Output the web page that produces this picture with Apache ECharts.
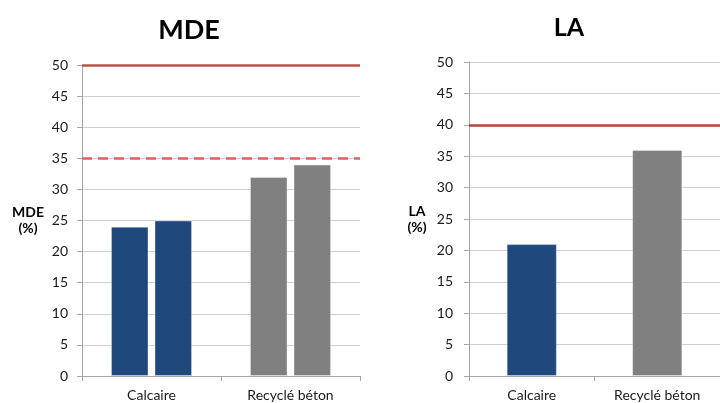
<!DOCTYPE html>
<html>
<head>
<meta charset="utf-8">
<script src="https://cdn.jsdelivr.net/npm/echarts@6/dist/echarts.min.js"></script>
<style>
  html, body { margin: 0; padding: 0; background: #fff; }
  #chart { width: 720px; height: 403px; }
</style>
</head>
<body>
<div id="chart"></div>
<script>
// Granulat categories shared by both panels
const categories = ['Calcaire', 'Recyclé béton'];
const yTicks = [0, 5, 10, 15, 20, 25, 30, 35, 40, 45, 50];

// MDE (%) – two test results per granulat
const mdeRun1 = [24, 32];
const mdeRun2 = [25, 34];
const mdeLimitHigh = 50;   // solid limit
const mdeLimitLow = 35;    // dashed limit

// LA (%) – one result per granulat
const laValues = [21, 36];
const laLimit = 40;

const barColors = ['#1f497d', '#808080'];
const font = 'Lato, "Liberation Sans", sans-serif';

function colorByCategory(p) { return barColors[p.dataIndex]; }

function yAxisFor(gridIndex, label, nameGap, labelMargin) {
  return {
    type: 'value', gridIndex: gridIndex,
    min: yTicks[0], max: yTicks[yTicks.length - 1], interval: yTicks[1] - yTicks[0],
    name: label, nameLocation: 'middle', nameRotate: 0, nameGap: nameGap,
    nameTextStyle: { fontFamily: font, fontWeight: 'bold', fontSize: 14, color: '#000', align: 'center', lineHeight: 16 },
    axisLine: { show: true, lineStyle: { color: '#a6a6a6', width: 1 } },
    axisTick: { show: true, length: 5, lineStyle: { color: '#a6a6a6' } },
    axisLabel: { fontFamily: font, fontSize: 14, color: '#1a1a1a', margin: labelMargin },
    splitLine: { show: true, lineStyle: { color: '#cfcfcf', width: 1 } }
  };
}

function xAxisFor(gridIndex) {
  return {
    type: 'category', gridIndex: gridIndex, data: categories,
    axisLine: { show: true, lineStyle: { color: '#a6a6a6', width: 1 } },
    axisTick: { show: true, length: 5, alignWithLabel: false, lineStyle: { color: '#a6a6a6' } },
    axisLabel: { fontFamily: font, fontSize: 14, color: '#1a1a1a', margin: 12 }
  };
}

function limitLine(value, color, type) {
  return {
    yAxis: value,
    lineStyle: { color: color, width: 2.5, type: type }
  };
}

const option = {
  backgroundColor: '#fff',
  animation: false,
  title: [
    { text: 'MDE', left: 184, top: 12, textAlign: 'center',
      textStyle: { fontFamily: font, fontWeight: 'bold', fontSize: 27, color: '#000' } },
    { text: 'LA', left: 564, top: 10, textAlign: 'center',
      textStyle: { fontFamily: font, fontWeight: 'bold', fontSize: 25, color: '#000' } }
  ],
  grid: [
    { left: 82, width: 278, top: 65, bottom: 27 },
    { left: 469, width: 257, top: 62, bottom: 27 }
  ],
  xAxis: [xAxisFor(0), xAxisFor(1)],
  yAxis: [
    yAxisFor(0, 'MDE\n(%)', 54, 14),
    yAxisFor(1, 'LA\n(%)', 52, 16)
  ],
  series: [
    {
      type: 'bar', xAxisIndex: 0, yAxisIndex: 0, data: mdeRun1,
      barWidth: '27%', barGap: '16%',
      itemStyle: { color: colorByCategory, borderColor: 'rgba(255,255,255,0.35)', borderWidth: 1 },
      markLine: {
        silent: true, symbol: 'none', label: { show: false },
        data: [
          limitLine(mdeLimitHigh, '#c0504d', 'solid'),
          limitLine(mdeLimitLow, '#d9625f', [10, 6])
        ]
      }
    },
    {
      type: 'bar', xAxisIndex: 0, yAxisIndex: 0, data: mdeRun2,
      barWidth: '27%', barGap: '16%',
      itemStyle: { color: colorByCategory, borderColor: 'rgba(255,255,255,0.35)', borderWidth: 1 }
    },
    {
      type: 'bar', xAxisIndex: 1, yAxisIndex: 1, data: laValues,
      barWidth: '40%',
      itemStyle: { color: colorByCategory, borderColor: 'rgba(255,255,255,0.35)', borderWidth: 1 },
      markLine: {
        silent: true, symbol: 'none', label: { show: false },
        data: [limitLine(laLimit, '#b5443f', 'solid')]
      }
    }
  ]
};

const chart = echarts.init(document.getElementById('chart'), null, { renderer: 'canvas' });
chart.setOption(option);
</script>
</body>
</html>
